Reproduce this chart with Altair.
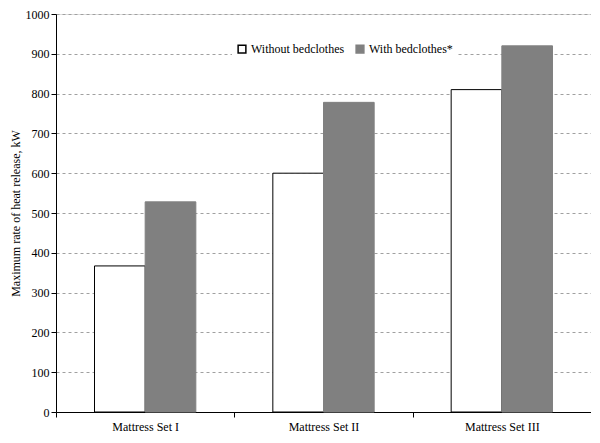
import altair as alt
import pandas as pd

categories = ["Mattress Set I", "Mattress Set II", "Mattress Set III"]
series_names = ["Without bedclothes", "With bedclothes*"]
without_bedclothes = [367, 600, 810]
with_bedclothes = [528, 778, 920]
y_ticks = [0, 100, 200, 300, 400, 500, 600, 700, 800, 900, 1000]

rows = []
for c, a, b in zip(categories, without_bedclothes, with_bedclothes):
    rows.append({"set": c, "series": series_names[0], "value": a})
    rows.append({"set": c, "series": series_names[1], "value": b})
df = pd.DataFrame(rows)

FONT = "'Liberation Serif', 'Times New Roman', Times, serif"

legend_kw = dict(title=None, orient="none", legendX=176, legendY=25,
                 direction="horizontal", fillColor="white",
                 padding=4, symbolType="square", symbolSize=60,
                 labelFont=FONT, labelFontSize=12, labelColor="black",
                 columnPadding=8, labelOffset=3)

chart = alt.Chart(df).mark_bar(strokeWidth=1).encode(
    x=alt.X("set:N", sort=categories, title=None,
            scale=alt.Scale(paddingInner=0, paddingOuter=0),
            axis=alt.Axis(labelAngle=0, tickBand="extent", tickSize=5,
                          labelPadding=4, domainColor="black", tickColor="black",
                          labelColor="black", labelFontSize=12, labelFont=FONT)),
    xOffset=alt.XOffset("series:N", sort=series_names,
                        scale=alt.Scale(paddingInner=0, paddingOuter=0.76)),
    y=alt.Y("value:Q", title="Maximum rate of heat release, kW",
            scale=alt.Scale(domain=[0, 1000], nice=False),
            axis=alt.Axis(values=y_ticks, format="d", tickSize=5, grid=True,
                          gridDash=[3, 3], gridColor="#a0a0a0", gridWidth=1,
                          domainColor="black", tickColor="black",
                          labelColor="black", labelFontSize=12, labelFont=FONT,
                          labelPadding=2,
                          titleFont=FONT, titleFontSize=12, titleFontWeight="normal",
                          titleColor="black", titlePadding=3)),
    fill=alt.Fill("series:N", sort=series_names,
                  scale=alt.Scale(domain=series_names, range=["white", "#808080"]),
                  legend=alt.Legend(**legend_kw)),
    stroke=alt.Stroke("series:N", sort=series_names,
                      scale=alt.Scale(domain=series_names, range=["black", "#808080"]),
                      legend=alt.Legend(**legend_kw)),
).properties(
    width=535, height=398,
    autosize=alt.AutoSizeParams(type="none"),
    padding={"left": 48, "top": 6, "right": 0, "bottom": 23},
).configure_view(
    stroke="black", strokeWidth=1
).configure(background="white")

chart.save("out.html", embed_options={"renderer": "svg", "actions": False})
